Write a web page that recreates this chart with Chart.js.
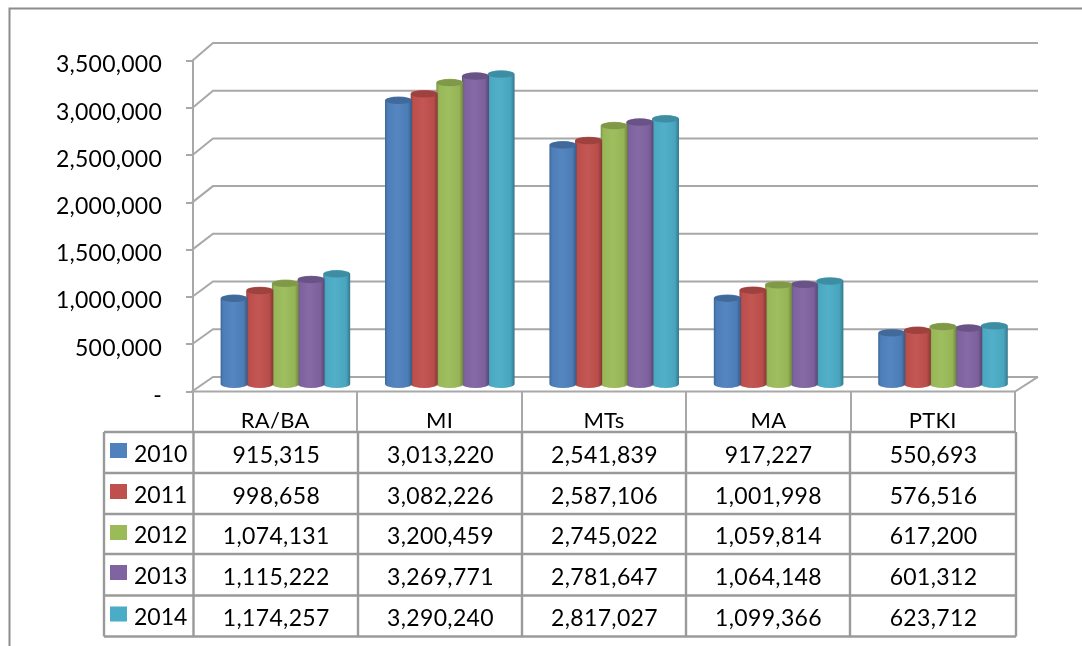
<!DOCTYPE html>
<html><head><meta charset="utf-8">
<style>html,body{margin:0;padding:0;background:#fff}#w{position:relative;width:1082px;height:646px;overflow:hidden}canvas{display:block;filter:blur(0.45px)}</style>
<script src="https://cdn.jsdelivr.net/npm/chart.js@4/dist/chart.umd.min.js"></script>
</head><body><div id="w"><canvas id="c" width="1082" height="646"></canvas></div>
<script>
const categories = ['RA/BA','MI','MTs','MA','PTKI'];
const years = ['2010','2011','2012','2013','2014'];
const v2010 = [915315,3013220,2541839,917227,550693];
const v2011 = [998658,3082226,2587106,1001998,576516];
const v2012 = [1074131,3200459,2745022,1059814,617200];
const v2013 = [1115222,3269771,2781647,1064148,601312];
const v2014 = [1174257,3290240,2817027,1099366,623712];
const seriesValues = [v2010,v2011,v2012,v2013,v2014];
const colors = ['#4F81BD','#C0504D','#9BBB59','#8064A2','#4BACC6'];
const FONT = 'Lato, Carlito, sans-serif';
const GRID = '#a8a8a8';
function fmt(n){return n.toLocaleString('en-US');}
function shade(hex,f){
  const n=parseInt(hex.slice(1),16);let r=n>>16,g=(n>>8)&255,b=n&255;
  const m=c=>Math.round(f<0?c*(1+f):c+(255-c)*f);
  return `rgb(${m(r)},${m(g)},${m(b)})`;
}
const wall = {
  id:'wall',
  beforeDraw(ch){ ch.ctx.letterSpacing='0.25px'; },
  beforeDatasetsDraw(ch){
    const {ctx,scales:{y},chartArea:a}=ch;
    const dx=21;
    ctx.save();ctx.strokeStyle=GRID;ctx.lineWidth=2;
    y.ticks.forEach(t=>{
      const py=y.getPixelForValue(t.value);
      const by=43+(3500000-t.value)/500000*47.7;
      ctx.beginPath();ctx.moveTo(a.left-1,py);ctx.lineTo(a.left-1+dx,by);ctx.lineTo(1038,by);
      ctx.stroke();
    });
    const fy=y.getPixelForValue(0);
    const by=43+7*47.7;
    ctx.beginPath();ctx.moveTo(a.left-2,fy);ctx.lineTo(a.right,fy);ctx.lineTo(1038,by);ctx.stroke();
    ctx.restore();
  },
  beforeDatasetDraw(ch,args){
    const meta=ch.getDatasetMeta(args.index),ctx=ch.ctx,col=colors[args.index];
    const dx=10.2,dy=-6.5,ry=4;
    meta.data.forEach(el=>{
      const w=27,cx=el.x+dx,l=cx-w/2,r=cx+w/2,top=el.y+dy,bot=el.base+dy;
      const g=ctx.createLinearGradient(l,0,r,0);
      g.addColorStop(0,shade(col,-0.2));
      g.addColorStop(0.1,shade(col,-0.02));
      g.addColorStop(0.45,shade(col,0.04));
      g.addColorStop(0.85,shade(col,-0.04));
      g.addColorStop(1,shade(col,-0.3));
      ctx.save();
      ctx.fillStyle=g;
      ctx.beginPath();
      ctx.moveTo(l,top);ctx.lineTo(l,bot);
      ctx.ellipse(cx,bot,w/2,ry,0,Math.PI,0,true);
      ctx.lineTo(r,top);
      ctx.ellipse(cx,top,w/2,ry,0,0,Math.PI,true);
      ctx.closePath();ctx.fill();
      ctx.fillStyle=shade(col,-0.18);
      ctx.beginPath();ctx.ellipse(cx,top,w/2-0.5,ry-0.5,0,0,Math.PI*2);ctx.fill();
      ctx.restore();
    });
    return false;
  },
  afterDraw(ch){
    const ctx=ch.ctx;
    ctx.save();
    ctx.strokeStyle='#8c8c8c';ctx.lineWidth=2;
    ctx.beginPath();ctx.moveTo(9.5,646);ctx.lineTo(9.5,8.5);ctx.lineTo(1082,8.5);ctx.stroke();
    const xs=[104,193.5,358,522,686,850,1016];
    const ys=[432,473,514,554,595.5,636.5];
    ctx.strokeStyle='#9a9a9a';ctx.lineWidth=2.4;
    ctx.beginPath();
    xs.forEach(x=>{ctx.moveTo(x,ys[0]);ctx.lineTo(x,ys[5]);});
    ys.forEach(y=>{ctx.moveTo(xs[0],y);ctx.lineTo(xs[6],y);});
    ctx.stroke();
    ctx.font='23px '+FONT;ctx.fillStyle='#000';ctx.textBaseline='middle';
    years.forEach((yr,i)=>{
      const cy=(ys[i]+ys[i+1])/2;
      ctx.fillStyle=colors[i];ctx.fillRect(110,ys[i]+11,17,15);
      ctx.fillStyle='#000';ctx.textAlign='left';
      ctx.letterSpacing='0px';ctx.fillText(yr,134,cy+2);
      ctx.letterSpacing='0.35px';ctx.textAlign='center';
      seriesValues[i].forEach((v,j)=>ctx.fillText(fmt(v),(xs[j+1]+xs[j+2])/2+0.5,cy+3));
    });
    ctx.restore();
  }
};
new Chart(document.getElementById('c'),{
  type:'bar',
  data:{labels:categories,datasets:years.map((yr,i)=>({label:yr,data:seriesValues[i],backgroundColor:colors[i]}))},
  options:{
    responsive:false,animation:false,
    layout:{padding:{top:61,right:67,bottom:0,left:0}},
    categoryPercentage:0.78,barPercentage:1,
    plugins:{legend:{display:false},tooltip:{enabled:false},title:{display:false}},
    scales:{
      x:{
        afterFit(s){s.height=254.5;},
        offset:true,
        grid:{display:true,drawOnChartArea:false,drawTicks:true,tickLength:40,color:GRID,lineWidth:2,offset:true},
        border:{display:false},
        ticks:{padding:-24,maxRotation:0,color:'#000',font:{family:FONT,size:22}}
      },
      y:{
        min:0,max:3500000,
        afterFit(s){s.width=193;},
        afterBuildTicks(s){s.ticks=[0,500000,1000000,1500000,2000000,2500000,3000000,3500000].map(value=>({value}));},
        grid:{display:true,drawOnChartArea:false,drawTicks:true,tickLength:7,color:GRID,lineWidth:2},
        border:{display:true,color:GRID,width:2},
        ticks:{padding:24,labelOffset:4,color:'#000',font:{family:FONT,size:23},callback:v=>v===0?'-':fmt(v)}
      }
    }
  },
  plugins:[wall]
});
</script></body></html>
